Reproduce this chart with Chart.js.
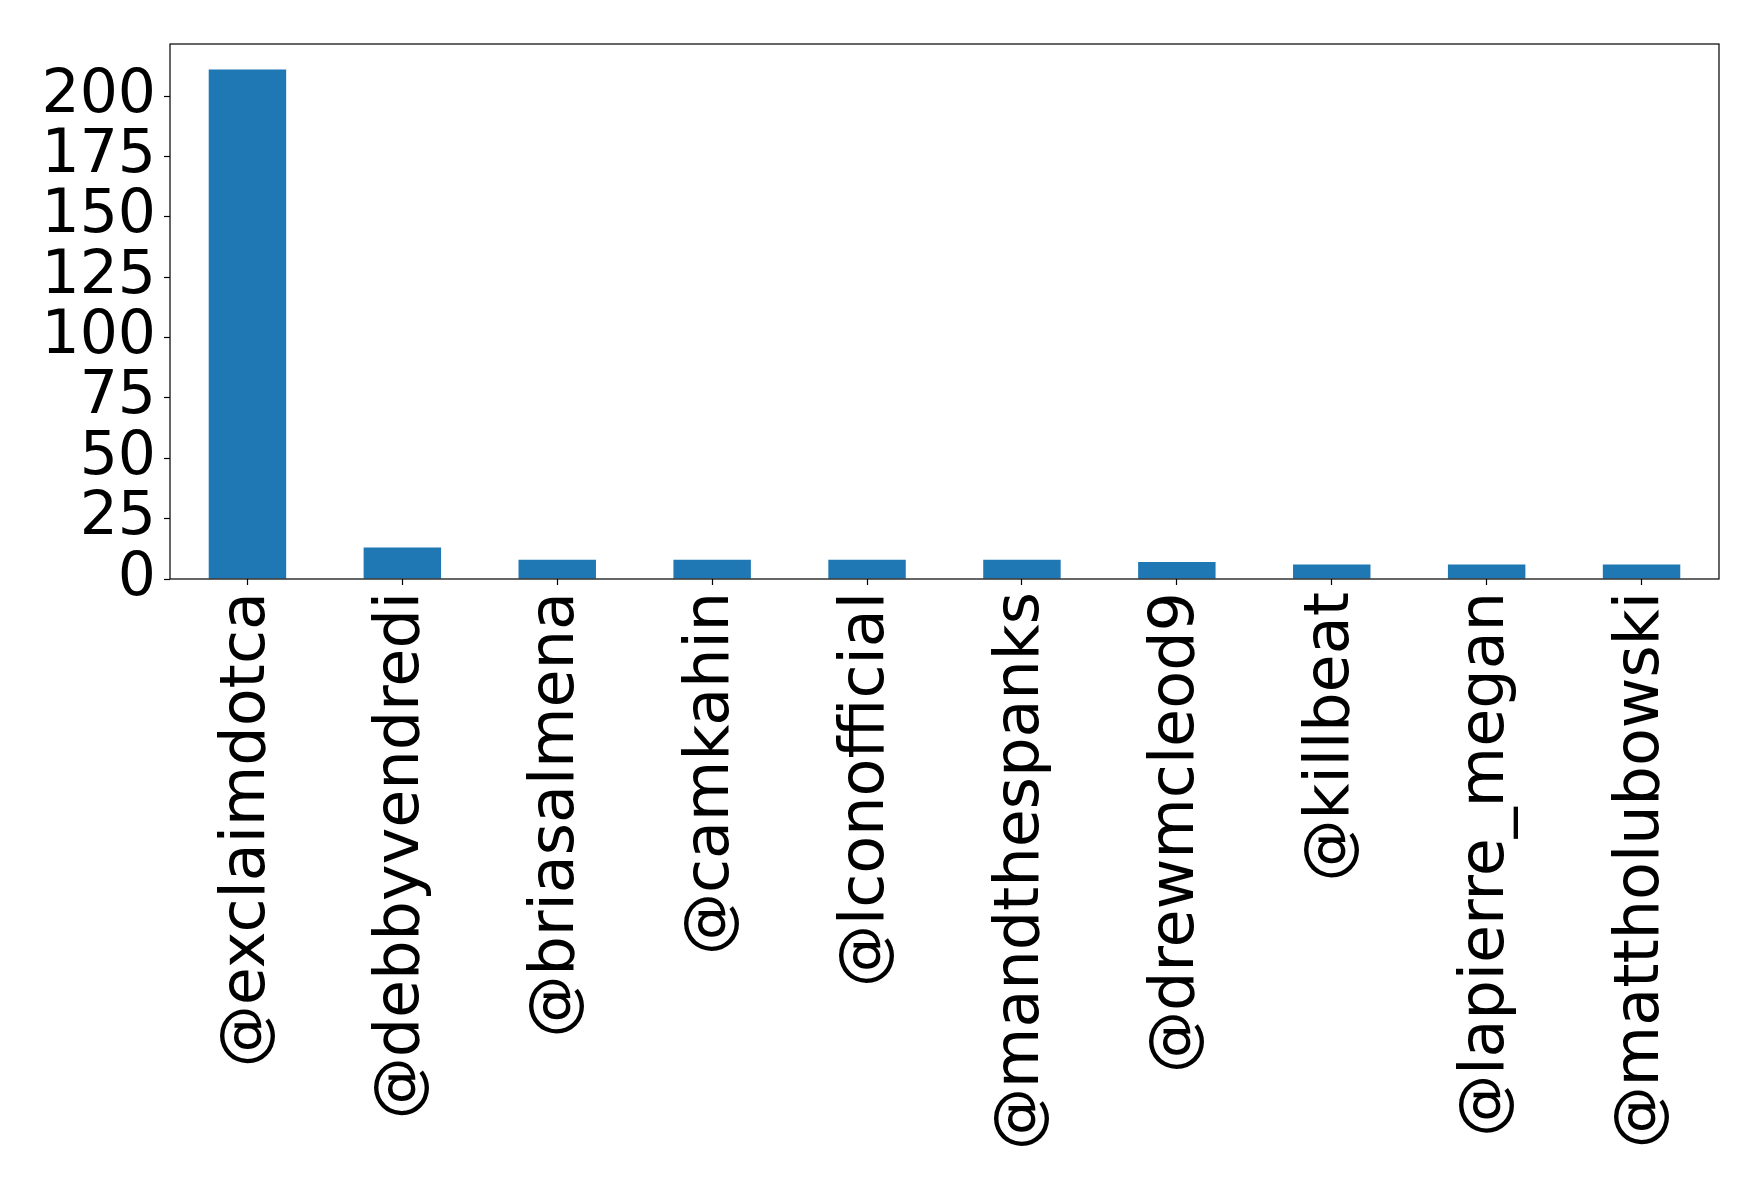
<!DOCTYPE html>
<html>
<head>
<meta charset="utf-8">
<script src="https://cdn.jsdelivr.net/npm/chart.js@4/dist/chart.umd.min.js"></script>
<style>
    body { margin: 0; background: #fff; }
</style>
</head>
<body>
<canvas id="myChart" width="1758" height="1190"></canvas>
<script>
const cuentas = ["@exclaimdotca", "@debbyvendredi", "@briasalmena", "@camkahin", "@lconofficial",
    "@mandthespanks", "@drewmcleod9", "@killbeat", "@lapierre_megan", "@mattholubowski"]
const menciones = [211, 13, 8, 8, 8, 8, 7, 6, 6, 6]
const yMax = Math.max(...menciones) * 1.05

// marco completo como en matplotlib
const marco = {
    id: "marco",
    afterDraw(chart) {
        const { ctx, chartArea } = chart
        ctx.save()
        ctx.strokeStyle = "#000"
        ctx.lineWidth = 1.2
        ctx.strokeRect(chartArea.left, chartArea.top, chartArea.right - chartArea.left, chartArea.bottom - chartArea.top)
        ctx.restore()
    }
}

Chart.defaults.font.family = "DejaVu Sans"
Chart.defaults.font.size = 61
Chart.defaults.color = "#000"

const ctx = document.getElementById("myChart").getContext("2d")
const myChart = new Chart(ctx, {
    type: "bar",
    data: {
        labels: cuentas,
        datasets: [{
            data: menciones,
            backgroundColor: "#1f77b4",
            barPercentage: 0.5,
            categoryPercentage: 1
        }]
    },
    options: {
        responsive: false,
        animation: false,
        layout: {
            padding: { left: 0, top: 40, right: 39, bottom: 0 }
        },
        scales: {
            x: {
                grid: {
                    offset: false,
                    drawOnChartArea: false,
                    tickLength: 6,
                    tickColor: "#000",
                    tickWidth: 1.2
                },
                border: { display: false },
                ticks: {
                    autoSkip: false,
                    minRotation: 90,
                    maxRotation: 90,
                    padding: 7,
                    font: { size: 62 }
                },
                afterFit: (scale) => { scale.height = 611 }
            },
            y: {
                min: 0,
                max: yMax,
                grid: {
                    drawOnChartArea: false,
                    tickLength: 6,
                    tickColor: "#000",
                    tickWidth: 1.2
                },
                border: { display: false },
                ticks: {
                    stepSize: 25,
                    autoSkip: false,
                    includeBounds: false,
                    padding: 8,
                    font: { size: 60 }
                },
                afterFit: (scale) => { scale.width = 170 }
            }
        },
        plugins: {
            legend: { display: false },
            tooltip: { enabled: false }
        }
    },
    plugins: [marco]
})
</script>
</body>
</html>
